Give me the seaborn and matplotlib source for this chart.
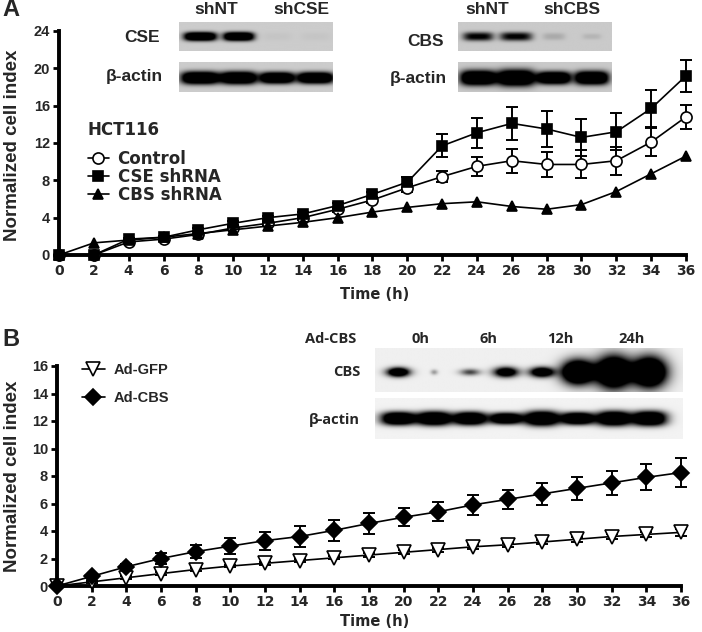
import numpy as np
import matplotlib
matplotlib.use("Agg")
import matplotlib.pyplot as plt
import seaborn as sns

# ---- data: panel A (HCT116 knockdown) ----
time_h = [0, 2, 4, 6, 8, 10, 12, 14, 16, 18, 20, 22, 24, 26, 28, 30, 32, 34, 36]
control = [0, 0, 1.4, 1.7, 2.2, 2.9, 3.4, 4.0, 4.9, 5.9, 7.2, 8.4, 9.5, 10.1, 9.7, 9.7, 10.1, 12.1, 14.8]
control_err = [0, 0, 0.1, 0.1, 0.1, 0.15, 0.15, 0.2, 0.25, 0.3, 0.4, 0.6, 1.0, 1.3, 1.3, 1.5, 1.5, 1.5, 1.3]
cse_sh = [0, 0, 1.7, 1.9, 2.7, 3.4, 4.0, 4.4, 5.3, 6.5, 7.8, 11.7, 13.1, 14.1, 13.5, 12.6, 13.2, 15.7, 19.2]
cse_err = [0, 0, 0.1, 0.1, 0.15, 0.2, 0.2, 0.2, 0.25, 0.3, 0.6, 1.25, 1.6, 1.8, 1.9, 2.0, 2.0, 2.0, 1.7]
cbs_sh = [0, 1.3, 1.6, 1.9, 2.3, 2.7, 3.1, 3.5, 4.0, 4.6, 5.1, 5.5, 5.7, 5.2, 4.9, 5.4, 6.8, 8.7, 10.6]

# ---- data: panel B (overexpression) ----
ad_gfp = [0, 0.3, 0.6, 0.9, 1.2, 1.45, 1.65, 1.85, 2.05, 2.25, 2.45, 2.65, 2.85, 3.0, 3.2, 3.4, 3.6, 3.75, 3.9]
ad_gfp_err = [0.05, 0.05, 0.1, 0.1, 0.1, 0.1, 0.1, 0.1, 0.1, 0.15, 0.15, 0.15, 0.15, 0.15, 0.15, 0.2, 0.2, 0.2, 0.25]
ad_cbs = [0, 0.7, 1.4, 2.0, 2.5, 2.9, 3.3, 3.6, 4.05, 4.55, 5.0, 5.4, 5.9, 6.3, 6.7, 7.1, 7.5, 7.9, 8.25]
ad_cbs_err = [0.05, 0.15, 0.2, 0.4, 0.45, 0.6, 0.65, 0.75, 0.75, 0.75, 0.65, 0.7, 0.7, 0.7, 0.8, 0.85, 0.85, 0.95, 1.05]

# ---- western blot band strengths (amplitude, width in lanes, height in box fraction) ----
cse_lanes = ["shNT", "shCSE"]
cse_band = [1.0, 1.0, 0.02, 0.02]
cse_w = [0.85, 0.8, 0.8, 0.8]
cse_h = [0.3, 0.3, 0.3, 0.3]
actin_a1 = [1.0, 1.0, 1.0, 1.0]
actin_a1_w = [1.0, 0.95, 0.9, 0.95]
actin_a1_h = [0.42, 0.42, 0.38, 0.38]
cbs_lanes = ["shNT", "shCBS"]
cbs_band = [0.8, 0.8, 0.12, 0.08]
cbs_w = [0.8, 0.85, 0.6, 0.5]
cbs_h = [0.3, 0.3, 0.25, 0.2]
actin_a2 = [1.0, 1.0, 1.0, 1.0]
actin_a2_w = [0.95, 1.0, 0.9, 0.9]
actin_a2_h = [0.5, 0.55, 0.42, 0.45]
adcbs_lanes = ["0h", "6h", "12h", "24h"]
adcbs_band = [0.8, 0.15, 0.3, 0.7, 0.75, 1.0, 1.0, 1.0]
adcbs_w = [0.6, 0.2, 0.55, 0.65, 0.65, 0.85, 0.95, 0.9]
adcbs_h = [0.2, 0.12, 0.15, 0.22, 0.22, 0.52, 0.7, 0.66]
actin_b = [1.0, 1.0, 1.0, 0.95, 1.0, 1.0, 1.0, 1.0]
actin_b_w = [0.95, 0.95, 0.9, 0.9, 0.95, 0.9, 0.95, 0.95]
actin_b_h = [0.32, 0.34, 0.32, 0.28, 0.36, 0.3, 0.36, 0.36]

sns.set_style("white")
plt.rcParams['font.family'] = ['Liberation Sans', 'DejaVu Sans']

W, H = 702, 632
fig = plt.figure(figsize=(W / 100, H / 100), dpi=100)


def box(x0, y0, x1, y1):
    # pixel box (top-left origin) -> figure fraction rect
    return [x0 / W, 1 - y1 / H, (x1 - x0) / W, (y1 - y0) / H]


def ftext(x, y, s, size, ha="center", family=None, **kw):
    fig.text(x / W, 1 - y / H, s, ha=ha, va="center", fontsize=size,
             fontweight="bold", family=family or ['Liberation Sans', 'DejaVu Sans'], **kw)


def style_axis(ax, ymax, ystep):
    ax.set_xlim(0, 36)
    ax.set_ylim(0, ymax)
    ax.set_xticks(range(0, 37, 2))
    ax.set_yticks(range(0, ymax + 1, ystep))
    sns.despine(ax=ax)
    for s in ["left", "bottom"]:
        ax.spines[s].set_linewidth(2.8)
        ax.spines[s].set_color("black")
    ax.tick_params(axis="both", direction="out", length=4.5, width=2, color="black",
                   pad=2, left=True, bottom=True)
    for lab in ax.get_xticklabels():
        lab.set_fontweight("bold")
        lab.set_family("DejaVu Sans")
        lab.set_fontsize(10)
    for lab in ax.get_yticklabels():
        lab.set_fontweight("bold")
        lab.set_family("Liberation Sans")
        lab.set_fontsize(10.5)
    ax.set_xlabel("Time (h)", fontsize=10.5, fontweight="bold", family="DejaVu Sans")
    ax.set_ylabel("Normalized cell index", fontsize=13.5, fontweight="bold",
                  family="Liberation Sans")


def series(ax, y, err, marker, face, ms, label):
    if err is not None:
        ax.errorbar(time_h, y, yerr=err, fmt="none", ecolor="black", elinewidth=1.4,
                    capsize=4.5, capthick=1.4, zorder=2, clip_on=False)
    sns.lineplot(x=time_h, y=y, ax=ax, color="black", linewidth=1.2, marker=marker,
                 markersize=ms, markerfacecolor=face, markeredgecolor="black",
                 markeredgewidth=1.2, label=label, zorder=3, clip_on=False)


def blot(rect, amps, widths, heights, x0, x1, bg, ymid=0.5, gain=1.8, px=4, py=2.5):
    ax = fig.add_axes(box(*rect))
    xs = np.linspace(x0, x1, 400)
    ys = np.linspace(0, 1, 120)
    X, Y = np.meshgrid(xs, ys)
    dark = np.zeros_like(X)
    for i, (a, w, h) in enumerate(zip(amps, widths, heights)):
        dark += a * np.exp(-np.abs((X - i) / (w / 2)) ** px - np.abs((Y - ymid) / (h / 2)) ** py)
    img = bg * (1 - np.clip(dark * gain, 0, 1))
    ax.imshow(img, cmap="gray", vmin=0, vmax=1, extent=(x0, x1, 0, 1),
              origin="lower", aspect="auto", interpolation="bilinear")
    ax.set_axis_off()
    return ax


# ---------------- Panel A ----------------
axA = fig.add_axes(box(59, 31, 686, 255))
series(axA, control, control_err, "o", "white", 8, "Control")
series(axA, cse_sh, cse_err, "s", "black", 7.5, "CSE shRNA")
series(axA, cbs_sh, None, "^", "black", 7.5, "CBS shRNA")
style_axis(axA, 24, 4)
axA.xaxis.set_label_coords((375 - 59) / 627, (255 - 287) / 224)
axA.yaxis.set_label_coords((21 - 59) / 627, 0.49)
legA = axA.legend(loc="upper left", bbox_to_anchor=(0.035, 0.63), frameon=False,
                  handlelength=1.3, handletextpad=0.5, labelspacing=0.0,
                  prop={"weight": "bold", "size": 12, "family": "DejaVu Sans"},
                  title="HCT116",
                  title_fontproperties={"weight": "bold", "size": 12, "family": "DejaVu Sans"},
                  borderaxespad=0)
legA._legend_box.align = "left"
legA._legend_box.sep = 8

blot((179, 22, 333, 51), cse_band, cse_w, cse_h, -0.55, 3.45, 0.80, ymid=0.5)
blot((179, 62, 333, 92), actin_a1, actin_a1_w, actin_a1_h, -0.55, 3.45, 0.80, ymid=0.47)
blot((458, 22, 612, 51), cbs_band, cbs_w, cbs_h, -0.53, 3.53, 0.79, ymid=0.5, gain=1.3)
blot((458, 62, 612, 92), actin_a2, actin_a2_w, actin_a2_h, -0.53, 3.53, 0.79, ymid=0.47)

ftext(2, 10, "A", 17, ha="left")
ftext(216, 9, cse_lanes[0], 12.5)
ftext(301, 9, cse_lanes[1], 12.5)
ftext(160, 37, "CSE", 12.5, ha="right")
ftext(163, 77, "β-actin", 12.5, ha="right")
ftext(487, 9, cbs_lanes[0], 12.5)
ftext(572, 9, cbs_lanes[1], 12.5)
ftext(444, 41, "CBS", 12.5, ha="right")
ftext(447, 78, "β-actin", 12.5, ha="right")

# ---------------- Panel B ----------------
axB = fig.add_axes(box(57, 366, 681, 586))
series(axB, ad_gfp, ad_gfp_err, "v", "white", 10, "Ad-GFP")
series(axB, ad_cbs, ad_cbs_err, "D", "black", 8.5, "Ad-CBS")
style_axis(axB, 16, 2)
axB.xaxis.set_label_coords((375 - 57) / 624, (586 - 614) / 220)
axB.yaxis.set_label_coords((21 - 57) / 624, 0.5)
axB.legend(loc="upper left", bbox_to_anchor=(0.03, 1.04), frameon=False,
           handlelength=1.6, handletextpad=0.6, labelspacing=0.95,
           prop={"weight": "bold", "size": 10.5}, borderaxespad=0)

blot((375, 348, 683, 392), adcbs_band, adcbs_w, adcbs_h, -0.64, 7.92, 0.94,
     ymid=0.45, gain=2.4, px=2.0, py=2.0)
blot((375, 398, 683, 439), actin_b, actin_b_w, actin_b_h, -0.64, 7.92, 0.95, ymid=0.5, px=2.6)

calib = ['Open Sans', 'DejaVu Sans']
ftext(2, 339, "B", 17, ha="left")
ftext(305, 339, "Ad-CBS", 10.5, ha="left", family=calib)
for lab, xc in zip(adcbs_lanes, [420, 488, 560, 632]):
    ftext(xc, 339, lab, 10.5, family=calib)
ftext(360, 372, "CBS", 10.5, ha="right", family=calib)
ftext(360, 420, "β-actin", 10.5, ha="right", family=calib)

fig.savefig("out.png", dpi=100)
